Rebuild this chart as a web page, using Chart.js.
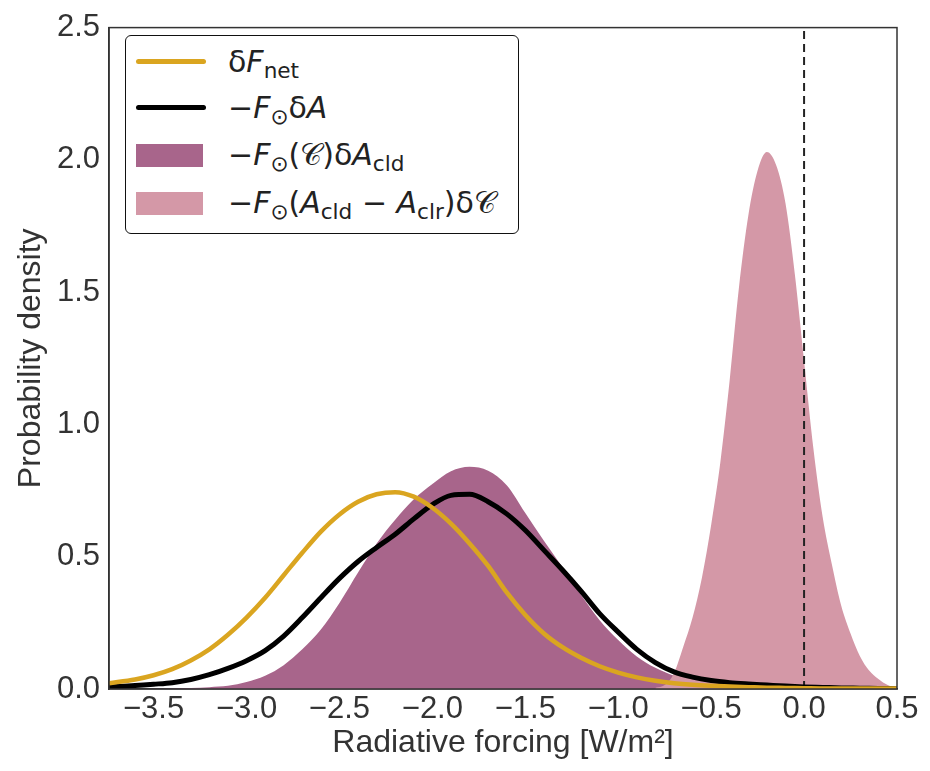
<!DOCTYPE html>
<html>
<head>
<meta charset="utf-8">
<script src="https://cdn.jsdelivr.net/npm/chart.js@4.4.1/dist/chart.umd.min.js"></script>
<style>
  body { margin: 0; background: #fff; }
  #wrap { position: relative; width: 930px; height: 771px; }
  #legend {
    position: absolute; left: 125px; top: 35px; width: 394px; height: 199px;
    box-sizing: border-box; border: 1.5px solid #111; border-radius: 6px; background: #fff;
    font-family: "DejaVu Sans", sans-serif; font-size: 30px; color: #222;
  }
  .row { position: absolute; left: 10px; height: 40px; display: flex; align-items: center; white-space: nowrap; }
  .line { width: 70px; height: 5px; border-radius: 3px; }
  .patch { width: 67px; height: 23px; margin-right: 3px; }
  .lab { margin-left: 22px; }
  .lab sub { font-size: 0.72em; vertical-align: -0.3em; line-height: 0; }
</style>
</head>
<body>
<div id="wrap">
  <canvas id="chart"></canvas>
  <div id="legend">
    <div class="row" style="top:5px"><span class="line" style="background:#DAA520"></span><span class="lab">δ<i>F</i><sub>net</sub></span></div>
    <div class="row" style="top:51px"><span class="line" style="background:#000"></span><span class="lab">−<i>F</i><sub>⊙</sub>δ<i>A</i></span></div>
    <div class="row" style="top:99px"><span class="patch" style="background:#A8658B"></span><span class="lab">−<i>F</i><sub>⊙</sub>(𝒞)δ<i>A</i><sub>cld</sub></span></div>
    <div class="row" style="top:147px"><span class="patch" style="background:#D498A7"></span><span class="lab">−<i>F</i><sub>⊙</sub>(<i>A</i><sub>cld</sub> − <i>A</i><sub>clr</sub>)δ𝒞</span></div>
  </div>
</div>
<script>
// x grid shared by the three broad densities
const gridX = [-3.74, -3.6, -3.5, -3.4, -3.3, -3.2, -3.1, -3.0, -2.9, -2.8, -2.7, -2.6, -2.5, -2.4, -2.3, -2.2, -2.1,
  -2.0, -1.9, -1.8, -1.7, -1.6, -1.5, -1.4, -1.3, -1.2, -1.1, -1.0, -0.9, -0.8, -0.7, -0.6, -0.5, -0.4, -0.3, -0.2,
  -0.1, 0.0, 0.1, 0.2, 0.3, 0.4, 0.5];

// dF_net
const netY = [0.022, 0.036, 0.052, 0.075, 0.108, 0.15, 0.205, 0.27, 0.345, 0.43, 0.515, 0.595, 0.66, 0.708, 0.736, 0.744, 0.727,
  0.685, 0.625, 0.55, 0.465, 0.365, 0.28, 0.21, 0.158, 0.118, 0.086, 0.062, 0.044, 0.031, 0.022, 0.016, 0.012, 0.009, 0.007, 0.005,
  0.004, 0.003, 0.002, 0.002, 0.002, 0.002, 0.002];

// -F dA
const albY = [0.008, 0.013, 0.018, 0.024, 0.036, 0.054, 0.078, 0.107, 0.145, 0.2, 0.27, 0.345, 0.418, 0.482, 0.535, 0.585, 0.643,
  0.697, 0.732, 0.736, 0.708, 0.662, 0.60, 0.525, 0.45, 0.37, 0.285, 0.215, 0.15, 0.10, 0.065, 0.045, 0.032, 0.024, 0.019, 0.015,
  0.011, 0.008, 0.006, 0.004, 0.003, 0.002, 0.001];

// -F(C) dA_cld
const cldY = [0.0, 0.0, 0.001, 0.002, 0.004, 0.007, 0.012, 0.026, 0.05, 0.09, 0.15, 0.225, 0.325, 0.44, 0.55, 0.64, 0.717,
  0.775, 0.823, 0.84, 0.825, 0.77, 0.665, 0.56, 0.46, 0.355, 0.26, 0.185, 0.123, 0.08, 0.05, 0.03, 0.018, 0.01, 0.006, 0.003,
  0.002, 0.001, 0.0, 0.0, 0.0, 0.0, 0.0];

// -F(A_cld - A_clr) dC
const ccX = [-0.8, -0.75, -0.7, -0.65, -0.6, -0.55, -0.5, -0.45, -0.4, -0.35, -0.3, -0.25, -0.2, -0.15, -0.1, -0.05,
  0.0, 0.05, 0.1, 0.15, 0.2, 0.25, 0.3, 0.35, 0.4, 0.45, 0.5];
const ccY = [0.005, 0.015, 0.06, 0.16, 0.27, 0.42, 0.62, 0.86, 1.17, 1.52, 1.79, 1.96, 2.03, 1.98, 1.836, 1.57,
  1.24, 0.91, 0.65, 0.47, 0.315, 0.21, 0.125, 0.07, 0.038, 0.015, 0.005];

const xTicks = [-3.5, -3.0, -2.5, -2.0, -1.5, -1.0, -0.5, 0.0, 0.5];
const yTicks = [0.0, 0.5, 1.0, 1.5, 2.0, 2.5];

const pts = (xs, ys) => xs.map((x, i) => ({ x: x, y: ys[i] }));
const fmt = v => Number(v).toFixed(1).replace('-', '\u2212');
const tickFont = { family: '"Liberation Sans", Arial, sans-serif', size: 31 };
const titleFont = { family: '"Liberation Sans", Arial, sans-serif', size: 32 };

const frame = {
  id: 'frame',
  afterDatasetsDraw(chart) {
    const { ctx, chartArea: a } = chart;
    ctx.save();
    ctx.strokeStyle = '#333';
    ctx.lineWidth = 1.5;
    ctx.strokeRect(a.left, a.top, a.right - a.left, a.bottom - a.top);
    ctx.restore();
  }
};

const curve = { pointRadius: 0, cubicInterpolationMode: 'monotone' };

new Chart(document.getElementById('chart'), {
  type: 'line',
  data: {
    datasets: [
      { ...curve, data: pts(gridX, netY), borderColor: '#DAA520', borderWidth: 4.5, fill: false, order: 0 },
      { ...curve, data: pts(gridX, albY), borderColor: '#000', borderWidth: 5, fill: false, order: 1 },
      { data: [{ x: 0, y: 0 }, { x: 0, y: 2.5 }], borderColor: '#222', borderWidth: 2, borderDash: [8, 5],
        pointRadius: 0, fill: false, order: 2 },
      { ...curve, data: pts(ccX, ccY), borderWidth: 0, borderColor: 'rgba(0,0,0,0)', backgroundColor: '#D498A7',
        fill: 'origin', order: 3 },
      { ...curve, data: pts(gridX, cldY), borderWidth: 0, borderColor: 'rgba(0,0,0,0)', backgroundColor: '#A8658B',
        fill: 'origin', order: 4 }
    ]
  },
  options: {
    responsive: true,
    maintainAspectRatio: false,
    animation: false,
    layout: { padding: { left: 0, right: 33, top: 19, bottom: 0 } },
    plugins: { legend: { display: false }, tooltip: { enabled: false } },
    scales: {
      x: {
        type: 'linear', min: -3.74, max: 0.5,
        grid: { display: false, drawTicks: false },
        border: { display: true, color: '#333', width: 1.5 },
        afterBuildTicks: s => { s.ticks = xTicks.map(v => ({ value: v })); },
        afterFit: s => { s.height = 82; },
        ticks: { font: tickFont, color: '#333', padding: 2, maxRotation: 0, callback: fmt },
        title: { display: true, text: 'Radiative forcing [W/m²]', font: titleFont, color: '#333',
          padding: { top: 0, bottom: 9 } }
      },
      y: {
        min: 0, max: 2.5,
        grid: { display: false, drawTicks: false },
        border: { display: true, color: '#333', width: 1.5 },
        afterBuildTicks: s => { s.ticks = yTicks.map(v => ({ value: v })); },
        afterFit: s => { s.width = 109; },
        ticks: { font: tickFont, color: '#333', padding: 9, callback: fmt },
        title: { display: true, text: 'Probability density', font: titleFont, color: '#333',
          padding: { top: 12, bottom: 0 } }
      }
    }
  },
  plugins: [frame]
});
</script>
</body>
</html>
